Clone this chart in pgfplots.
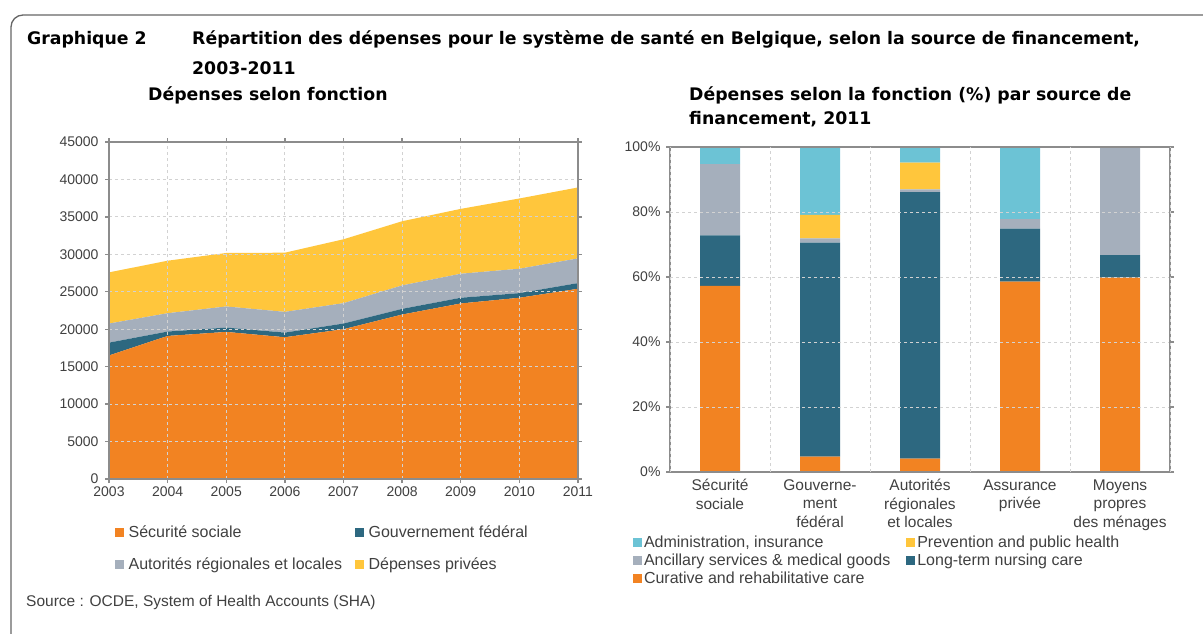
\documentclass[border=0pt]{standalone}
\usepackage{pgfplots}
\pgfplotsset{compat=1.18}
\usepackage{fontspec}
\setmainfont{Liberation Sans}
\newfontfamily\titlefont{DejaVu Sans}
\definecolor{cOr}{HTML}{F28322}
\definecolor{cDk}{HTML}{2D6880}
\definecolor{cGr}{HTML}{A5AFBC}
\definecolor{cYe}{HTML}{FFC63C}
\definecolor{cCy}{HTML}{6CC3D5}
\definecolor{cTx}{HTML}{404040}
\definecolor{cAx}{HTML}{8C8C8C}
\definecolor{cGd}{HTML}{D2D2D2}
\begin{document}
\begin{tikzpicture}
\path[use as bounding box] (0pt,0pt) rectangle (1203pt,633pt);
\begin{scope}
\clip (0pt,0pt) rectangle (1203pt,633pt);
\draw[color=black!60, line width=1.3pt, rounded corners=12pt] (11pt,618pt) rectangle (1230pt,-30pt);
\end{scope}
% titles
\tikzset{ttl/.style={anchor=base west, inner sep=0pt, font=\titlefont\fontsize{17.3}{20}\selectfont\bfseries}}
\node[ttl] at (27pt,588pt) {Graphique 2};
\node[ttl] at (192pt,588pt) {Répartition des dépenses pour le système de santé en Belgique, selon la source de financement,};
\node[ttl] at (192pt,558pt) {2003-2011};
\node[ttl] at (148pt,532pt) {Dépenses selon fonction};
\node[ttl] at (689pt,532pt) {Dépenses selon la fonction (\%) par source de};
\node[ttl] at (689pt,508pt) {financement, 2011};
\node[anchor=base west, inner sep=0pt, text=cTx, font=\fontsize{15.5}{18}\selectfont] at (26pt,27pt) {Source : OCDE, System of Health Accounts (SHA)};

\pgfplotsset{
  common/.style={
    scale only axis,
    anchor=south west,
    axis line style={cAx, line width=2.4pt},
    tick style={cAx, line width=1.4pt},
    major tick length=4pt,
    tick align=outside,
    ticklabel style={text=cTx, font=\fontsize{14}{16}\selectfont},
    /pgf/number format/assume math mode=true,
    grid style={cGd, dashed, line width=0.8pt},
    legend style={draw=none, fill=none, text=cTx, font=\fontsize{16}{18}\selectfont, inner sep=0pt, outer sep=0pt},
    legend cell align=left,
  },
  sqlegend/.style={legend image code/.code={\path[##1, draw=none] (0pt,-4.5pt) rectangle (9pt,4.5pt);}},
}
% left chart
\begin{axis}[common,
  at={(109pt,154pt)}, width=469pt, height=337pt,
  xmin=2003, xmax=2011, ymin=0, ymax=45000,
  xtick={2003,...,2011}, ytick={0,5000,...,45000},
  xticklabel style={/pgf/number format/1000 sep={}},
  yticklabel style={/pgf/number format/1000 sep={}, xshift=-3pt},
  scaled y ticks=false,
  xmajorgrids, ymajorgrids,
  axis on top,
  stack plots=y,
  legend columns=2,
  legend style={at={(0.012,-0.133)}, anchor=north west,
    /tikz/every even column/.append style={column sep=10.5pt},
    /tikz/every odd column/.append style={column sep=3pt},
    row sep=15pt},
  sqlegend,
]
\addplot[fill=cOr, draw=none] coordinates {(2003,16500) (2004,19100) (2005,19640) (2006,18930) (2007,20000) (2008,21960) (2009,23440) (2010,24200) (2011,25400)} \closedcycle;
\addlegendentry{Sécurité sociale}
\addplot[fill=cDk, draw=none] coordinates {(2003,1710) (2004,590) (2005,580) (2006,620) (2007,760) (2008,760) (2009,760) (2010,620) (2011,760)} \closedcycle;
\addlegendentry{Gouvernement fédéral}
\addplot[fill=cGr, draw=none] coordinates {(2003,2550) (2004,2450) (2005,2820) (2006,2770) (2007,2720) (2008,3130) (2009,3210) (2010,3260) (2011,3300)} \closedcycle;
\addlegendentry{Autorités régionales et locales}
\addplot[fill=cYe, draw=none] coordinates {(2003,6830) (2004,7010) (2005,7140) (2006,7900) (2007,8530) (2008,8570) (2009,8660) (2010,9380) (2011,9470)} \closedcycle;
\addlegendentry{Dépenses privées}
\end{axis}

% right chart
\begin{axis}[common,
  at={(670pt,161pt)}, width=500pt, height=325pt,
  xmin=-0.5, xmax=4.5, ymin=0, ymax=100,
  ybar stacked, bar width=40pt,
  xtick={0,...,4},
  xticklabels={{Sécurité\\sociale},{Gouverne-\\ment\\fédéral},{Autorités\\régionales\\et locales},{Assurance\\privée},{Moyens\\propres\\des ménages}},
  xticklabel style={align=center, text=cTx, font=\fontsize{15.5}{18.5}\selectfont},
  x tick style={draw=none},
  extra x ticks={-0.5,0.5,1.5,2.5,3.5,4.5},
  extra x tick labels={},
  extra x tick style={xmajorgrids, tick style={cAx, line width=1.4pt}, major tick length=6pt},
  ytick={0,20,...,100},
  yticklabel={\pgfmathprintnumber{\tick}\%},
  yticklabel style={xshift=-2pt},
  ymajorgrids,
  axis on top,
  legend columns=2,
  reverse legend,
  legend style={at={(-0.074,-0.19)}, anchor=north west,
    /tikz/every even column/.append style={column sep=14pt},
    /tikz/every odd column/.append style={column sep=0pt},
    row sep=1pt},
  sqlegend,
]
\addplot[fill=cOr, draw=none] coordinates {(0,57.3) (1,4.7) (2,4.1) (3,58.6) (4,59.8)};
\addlegendentry{Curative and rehabilitative care}
\addplot[fill=cDk, draw=none] coordinates {(0,15.5) (1,65.9) (2,82.0) (3,16.3) (4,6.9)};
\addlegendentry{Long-term nursing care}
\addplot[fill=cGr, draw=none] coordinates {(0,21.9) (1,1.3) (2,0.9) (3,2.9) (4,33.2)};
\addlegendentry{Ancillary services \& medical goods}
\addplot[fill=cYe, draw=none] coordinates {(0,0.0) (1,7.2) (2,8.2) (3,0.0) (4,0.1)};
\addlegendentry{Prevention and public health}
\addplot[fill=cCy, draw=none] coordinates {(0,5.3) (1,20.9) (2,4.8) (3,22.2) (4,0.0)};
\addlegendentry{Administration, insurance}
\end{axis}
\end{tikzpicture}
\end{document}
